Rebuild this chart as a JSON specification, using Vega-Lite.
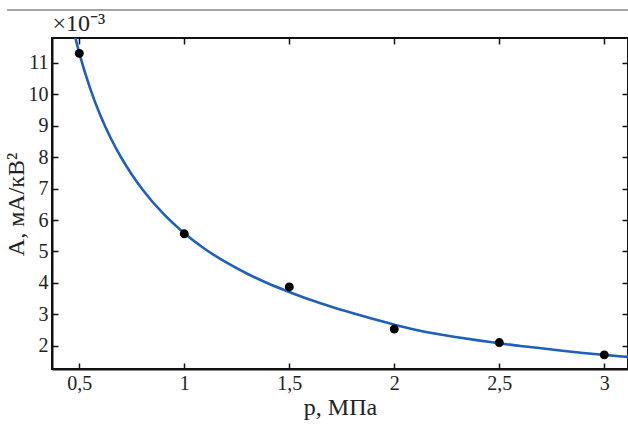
{
  "$schema": "https://vega.github.io/schema/vega-lite/v6.json",
  "width": 576,
  "height": 331,
  "autosize": {"type": "none"},
  "padding": {"left": 52, "top": 38, "right": 0, "bottom": 57},
  "background": "white",
  "config": {
    "view": {"stroke": "#111", "strokeWidth": 2},
    "axis": {"labelFont": "'Liberation Serif', 'Times New Roman', Times, serif", "labelFontSize": 20, "labelColor": "#222", "titleFont": "'Liberation Serif', 'Times New Roman', Times, serif", "titleFontSize": 24, "titleFontWeight": "normal", "titleColor": "#222", "grid": false, "domainColor": "#111", "domainWidth": 2, "tickColor": "#111", "tickWidth": 1.5, "tickSize": -6}
  },
  "datasets": {
    "curve": [
      {"p": 0.47, "A": 12.1}, {"p": 0.5, "A": 11.31}, {"p": 0.55, "A": 10.22}, {"p": 0.6, "A": 9.33},
      {"p": 0.65, "A": 8.6}, {"p": 0.7, "A": 7.98}, {"p": 0.75, "A": 7.45}, {"p": 0.8, "A": 6.98},
      {"p": 0.9, "A": 6.2}, {"p": 1.0, "A": 5.58}, {"p": 1.1, "A": 5.07}, {"p": 1.2, "A": 4.65},
      {"p": 1.3, "A": 4.29}, {"p": 1.4, "A": 3.98}, {"p": 1.5, "A": 3.71}, {"p": 1.6, "A": 3.46},
      {"p": 1.7, "A": 3.24}, {"p": 1.8, "A": 3.04}, {"p": 1.9, "A": 2.85}, {"p": 2.0, "A": 2.67},
      {"p": 2.1, "A": 2.51}, {"p": 2.2, "A": 2.38}, {"p": 2.3, "A": 2.27}, {"p": 2.4, "A": 2.17},
      {"p": 2.5, "A": 2.08}, {"p": 2.6, "A": 1.99}, {"p": 2.7, "A": 1.92}, {"p": 2.8, "A": 1.84},
      {"p": 2.9, "A": 1.77}, {"p": 3.0, "A": 1.71}, {"p": 3.12, "A": 1.64}
    ],
    "points": [
      {"p": 0.5, "A": 11.3}, {"p": 1.0, "A": 5.56}, {"p": 1.5, "A": 3.87},
      {"p": 2.0, "A": 2.53}, {"p": 2.5, "A": 2.1}, {"p": 3.0, "A": 1.71}
    ],
    "sep": [{"x1": 0.156, "x2": 3.2, "y": 12.68}]
  },
  "layer": [
    {
      "data": {"name": "curve"},
      "mark": {"type": "line", "color": "#1f5fbd", "strokeWidth": 2.6, "clip": true, "interpolate": "monotone"},
      "encoding": {
        "x": {"field": "p", "type": "quantitative", "scale": {"domain": [0.37, 3.113], "nice": false, "zero": false},
          "axis": {"title": "p, МПа", "values": [0.5, 1, 1.5, 2, 2.5, 3], "labelExpr": "replace(format(datum.value, '~g'), '.', ',')", "labelPadding": 10, "titlePadding": 2}},
        "y": {"field": "A", "type": "quantitative", "scale": {"domain": [1.26, 11.79], "nice": false, "zero": false},
          "axis": {"title": "A, мА/кВ²", "values": [2, 3, 4, 5, 6, 7, 8, 9, 10, 11], "labelPadding": 10, "titleX": -36, "titleY": 166, "titleBaseline": "middle", "titleAlign": "center", "titleAngle": -90}}
      }
    },
    {
      "data": {"name": "points"},
      "mark": {"type": "circle", "color": "#000", "size": 80, "opacity": 1},
      "encoding": {
        "x": {"field": "p", "type": "quantitative", "axis": null},
        "y": {"field": "A", "type": "quantitative", "axis": null}
      }
    },
    {
      "data": {"name": "sep"},
      "mark": {"type": "rule", "color": "#888", "strokeWidth": 1.5, "clip": false},
      "encoding": {
        "x": {"field": "x1", "type": "quantitative", "axis": null},
        "x2": {"field": "x2"},
        "y": {"field": "y", "type": "quantitative", "axis": null}
      }
    },
    {
      "data": {"values": [{"v": 0}]},
      "mark": {"type": "rule", "opacity": 0},
      "encoding": {
        "x": {"datum": 1, "type": "quantitative", "axis": {"orient": "top", "values": [0.5, 1, 1.5, 2, 2.5, 3], "labels": false, "domain": false, "title": "×10⁻³", "titleFontSize": 24, "titleAngle": 0, "titleX": 0, "titleY": -3, "titleAlign": "left", "titleBaseline": "bottom", "titleAnchor": "start"}},
        "y": {"datum": 5, "type": "quantitative", "axis": {"orient": "right", "values": [2, 3, 4, 5, 6, 7, 8, 9, 10, 11], "labels": false, "title": null, "domain": false}}
      }
    }
  ],
  "resolve": {"axis": {"x": "independent", "y": "independent"}}
}
